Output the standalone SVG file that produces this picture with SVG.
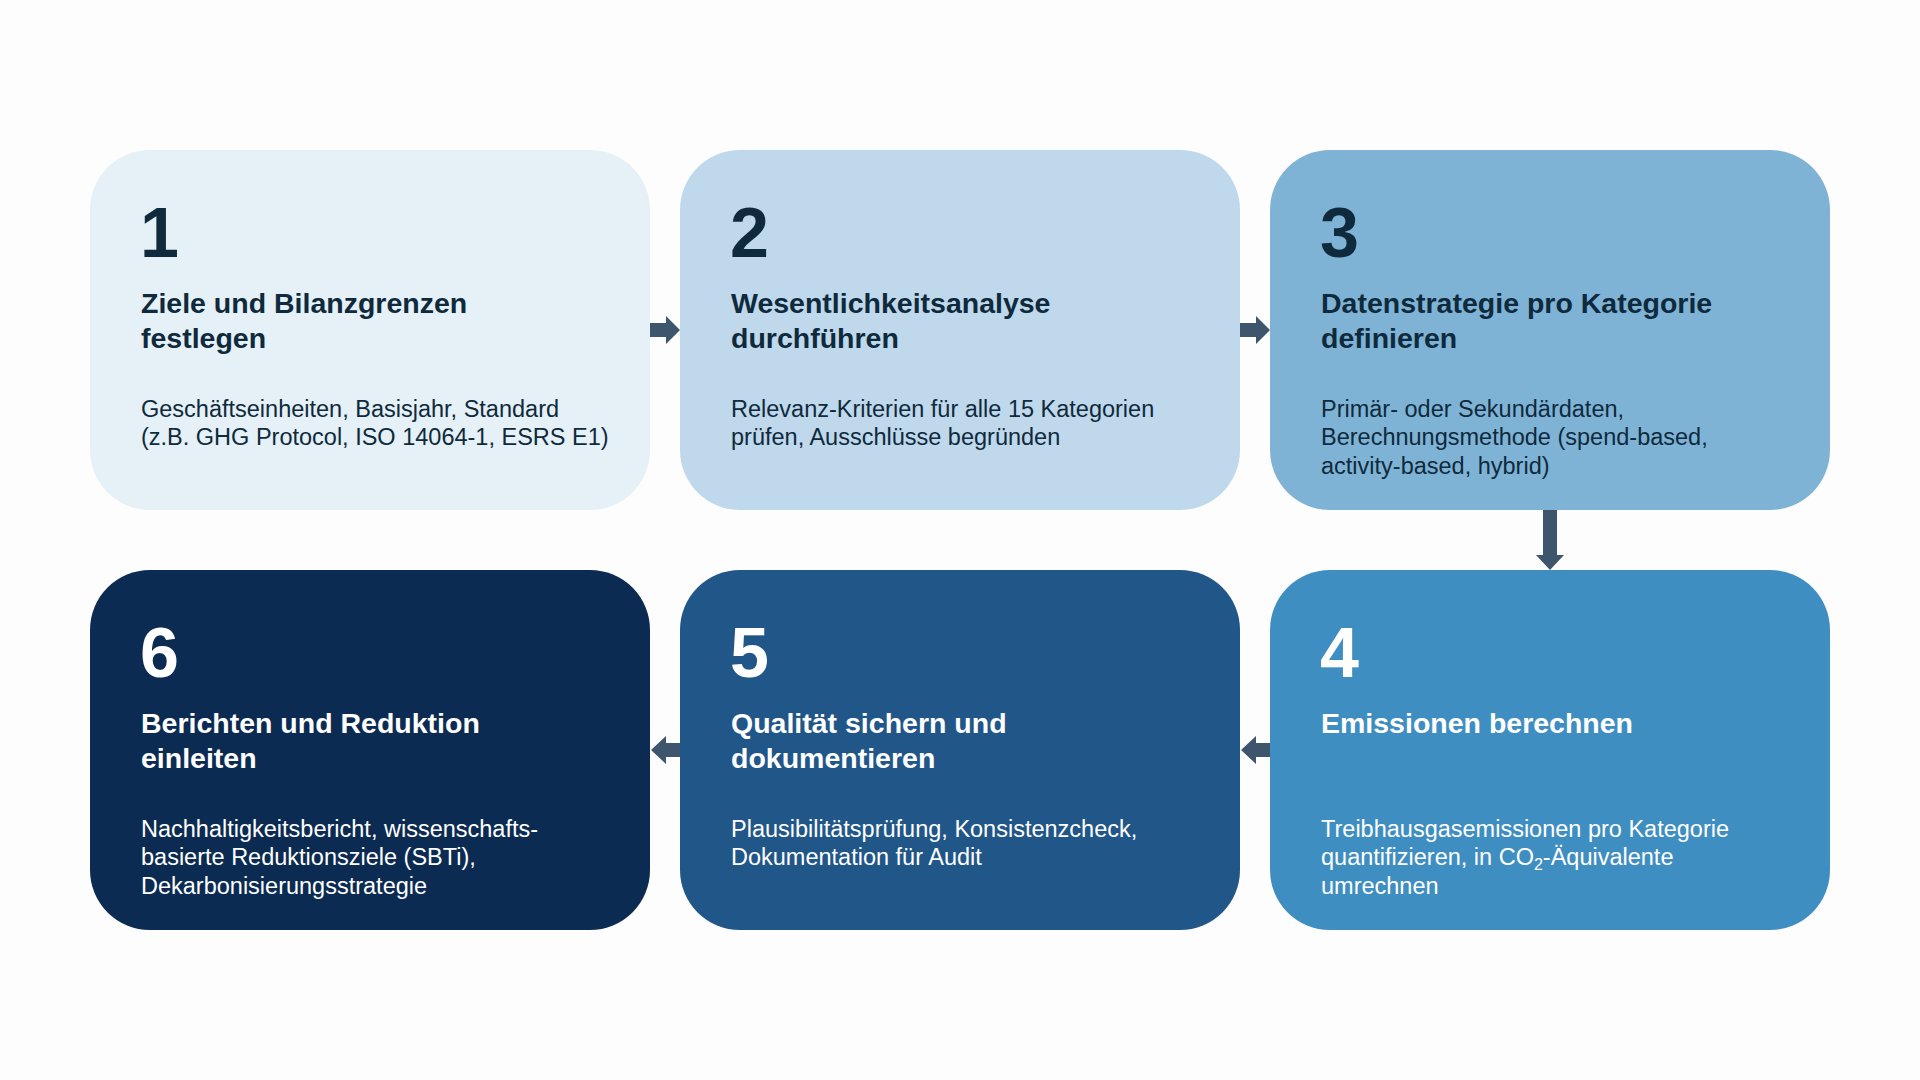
<svg xmlns="http://www.w3.org/2000/svg" width="1920" height="1080" viewBox="0 0 1920 1080">
  <style>
    .num { font-family: "Liberation Sans", Arial, sans-serif; font-weight: 700; font-size: 70px; }
    .ttl { font-family: "Liberation Sans", Arial, sans-serif; font-weight: 700; font-size: 28.5px; }
    .body { font-family: "Liberation Sans", Arial, sans-serif; font-size: 23.5px; }
    .dark { fill: #0E2A3C; }
    .light { fill: #FFFFFF; }
    .arrow { fill: #3D566E; }
  </style>
  <rect x="0" y="0" width="1920" height="1080" fill="#FDFDFD"/>

  <g id="node1">
    <rect x="90" y="150" width="560" height="360" rx="60" ry="60" fill="#E5F0F7"/>
    <text class="num dark" x="140" y="257">1</text>
    <text class="ttl dark" x="141" y="313">Ziele und Bilanzgrenzen</text>
    <text class="ttl dark" x="141" y="348">festlegen</text>
    <text class="body dark" x="141" y="417">Geschäftseinheiten, Basisjahr, Standard</text>
    <text class="body dark" x="141" y="445">(z.B. GHG Protocol, ISO 14064-1, ESRS E1)</text>
  </g>

  <g id="node2">
    <rect x="680" y="150" width="560" height="360" rx="60" ry="60" fill="#C0D8EB"/>
    <text class="num dark" x="730" y="257">2</text>
    <text class="ttl dark" x="731" y="313">Wesentlichkeitsanalyse</text>
    <text class="ttl dark" x="731" y="348">durchführen</text>
    <text class="body dark" x="731" y="417">Relevanz-Kriterien für alle 15 Kategorien</text>
    <text class="body dark" x="731" y="445">prüfen, Ausschlüsse begründen</text>
  </g>

  <g id="node3">
    <rect x="1270" y="150" width="560" height="360" rx="60" ry="60" fill="#7FB3D5"/>
    <text class="num dark" x="1320" y="257">3</text>
    <text class="ttl dark" x="1321" y="313">Datenstrategie pro Kategorie</text>
    <text class="ttl dark" x="1321" y="348">definieren</text>
    <text class="body dark" x="1321" y="417">Primär- oder Sekundärdaten,</text>
    <text class="body dark" x="1321" y="445">Berechnungsmethode (spend-based,</text>
    <text class="body dark" x="1321" y="474">activity-based, hybrid)</text>
  </g>

  <g id="node4">
    <rect x="1270" y="570" width="560" height="360" rx="60" ry="60" fill="#3F8EC2"/>
    <text class="num light" x="1320" y="677">4</text>
    <text class="ttl light" x="1321" y="733">Emissionen berechnen</text>
    <text class="body light" x="1321" y="837">Treibhausgasemissionen pro Kategorie</text>
    <text class="body light" x="1321" y="865">quantifizieren, in CO<tspan font-size="16" dy="5">2</tspan><tspan dy="-5">-Äquivalente</tspan></text>
    <text class="body light" x="1321" y="894">umrechnen</text>
  </g>

  <g id="node5">
    <rect x="680" y="570" width="560" height="360" rx="60" ry="60" fill="#215689"/>
    <text class="num light" x="730" y="677">5</text>
    <text class="ttl light" x="731" y="733">Qualität sichern und</text>
    <text class="ttl light" x="731" y="768">dokumentieren</text>
    <text class="body light" x="731" y="837">Plausibilitätsprüfung, Konsistenzcheck,</text>
    <text class="body light" x="731" y="865">Dokumentation für Audit</text>
  </g>

  <g id="node6">
    <rect x="90" y="570" width="560" height="360" rx="60" ry="60" fill="#0B2B52"/>
    <text class="num light" x="140" y="677">6</text>
    <text class="ttl light" x="141" y="733">Berichten und Reduktion</text>
    <text class="ttl light" x="141" y="768">einleiten</text>
    <text class="body light" x="141" y="837">Nachhaltigkeitsbericht, wissenschafts-</text>
    <text class="body light" x="141" y="865">basierte Reduktionsziele (SBTi),</text>
    <text class="body light" x="141" y="894">Dekarbonisierungsstrategie</text>
  </g>

  <g id="connectors">
    <polygon class="arrow" points="650,323 666,323 666,316 680,330 666,344 666,337 650,337"/>
    <polygon class="arrow" points="1240,323 1256,323 1256,316 1270,330 1256,344 1256,337 1240,337"/>
    <polygon class="arrow" points="1543,510 1557,510 1557,555 1564,555 1550,570 1536,555 1543,555"/>
    <polygon class="arrow" points="1270,743 1256,743 1256,736 1241,750 1256,764 1256,757 1270,757"/>
    <polygon class="arrow" points="680,743 666,743 666,736 651,750 666,764 666,757 680,757"/>
  </g>
</svg>
